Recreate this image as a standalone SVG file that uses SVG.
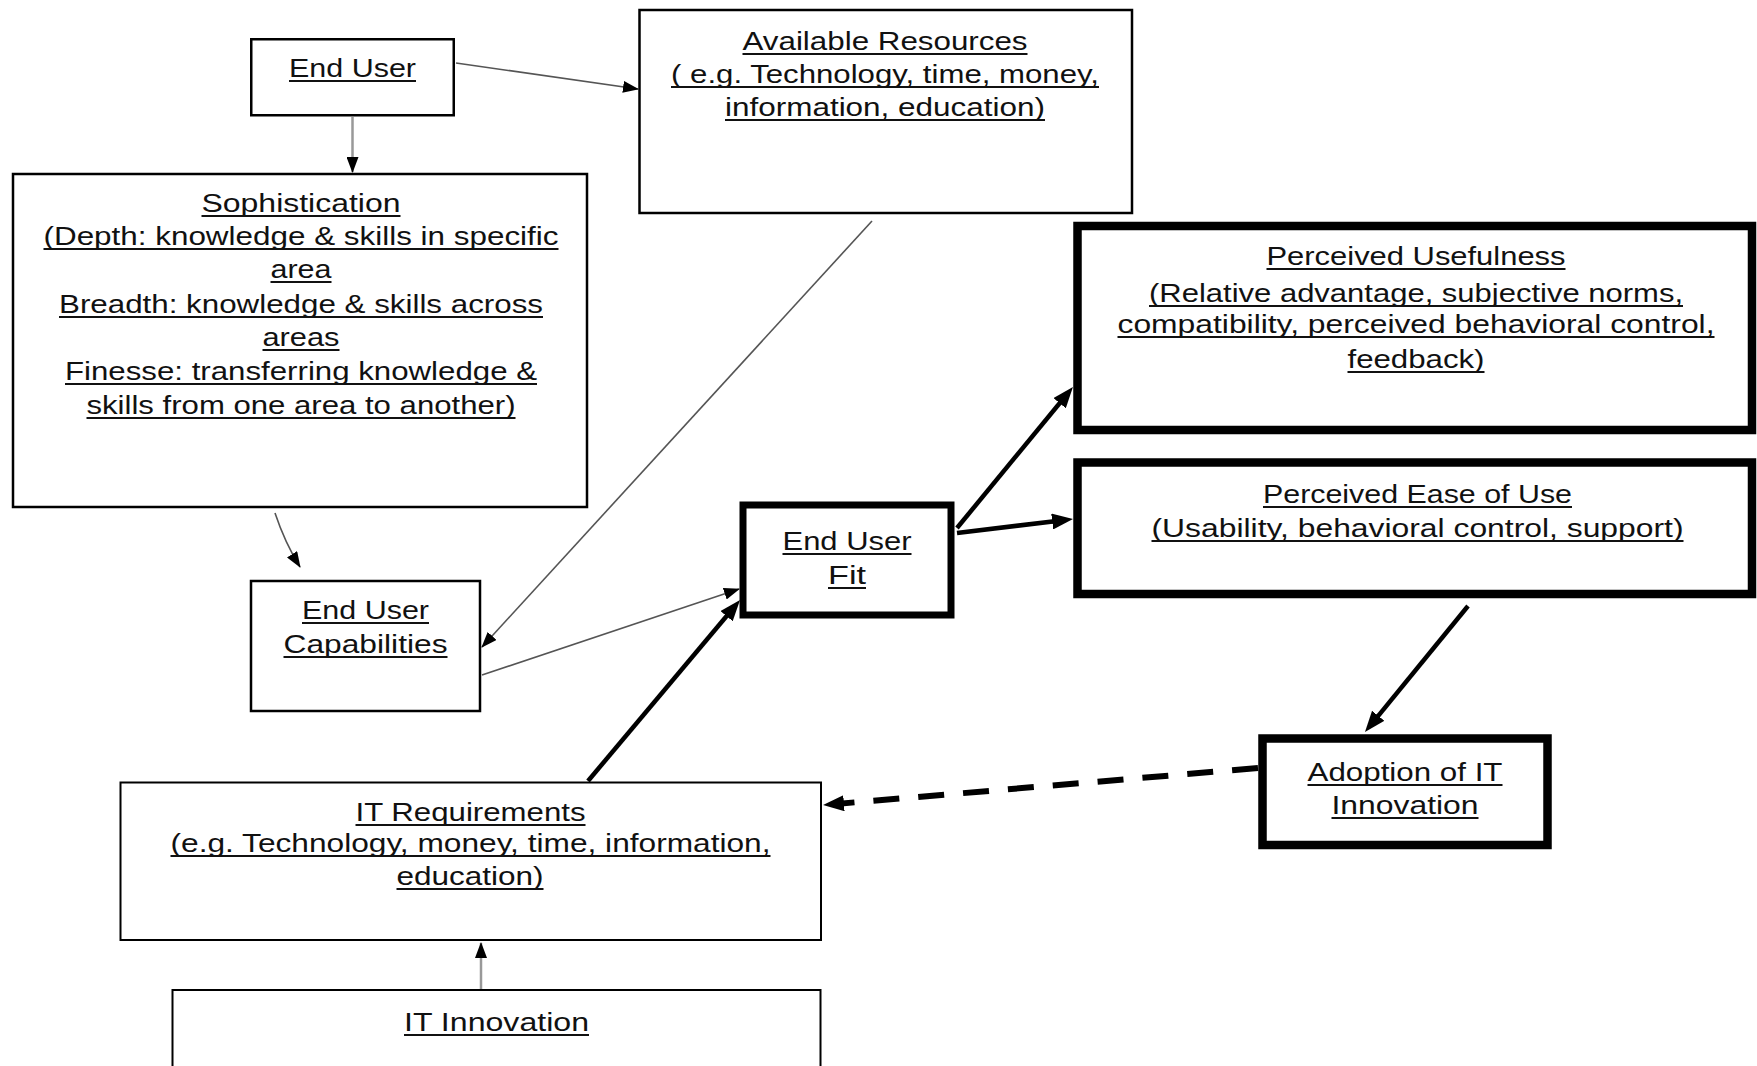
<svg xmlns="http://www.w3.org/2000/svg" width="1757" height="1066" viewBox="0 0 1757 1066">
  <defs>
    <style>
      .box { fill: #fff; stroke: #000; stroke-width: 2.5; }
      .box-it { fill: #fff; stroke: #000; stroke-width: 2; }
      .box-bold { fill: #fff; stroke: #000; stroke-width: 8.5; }
      .box-fit { fill: #fff; stroke: #000; stroke-width: 7; }
      .lbl { font-family: "Liberation Sans", Arial, sans-serif; font-size: 26px; fill: #111; text-anchor: middle; }
      .ul { fill: none; stroke: #111; stroke-width: 2; }
      .thin { fill: none; stroke: #555; stroke-width: 1.6; }
      .grey { fill: none; stroke: #999; stroke-width: 2.5; }
      .bold { fill: none; stroke: #000; stroke-width: 4.5; }
      .dash { fill: none; stroke: #000; stroke-width: 6; stroke-dasharray: 26 19; }
    </style>
    <marker id="arr" markerUnits="userSpaceOnUse" markerWidth="16" markerHeight="12" refX="15" refY="6" orient="auto">
      <path d="M0,0 L16,6 L0,12 z" fill="#000"/>
    </marker>
    <marker id="arrb" markerUnits="userSpaceOnUse" markerWidth="21" markerHeight="16" refX="11" refY="8" orient="auto">
      <path d="M0,0 L21,8 L0,16 z" fill="#000"/>
    </marker>
  </defs>

  <rect width="1757" height="1066" fill="#fff"/>

  <!-- connectors -->
  <g id="connectors">
    <line class="thin" x1="456" y1="63" x2="638" y2="89" marker-end="url(#arr)"/>
    <line class="grey" x1="352.5" y1="117" x2="352.5" y2="172" marker-end="url(#arr)"/>
    <path class="thin" d="M275,513 Q285,543 300,567" marker-end="url(#arr)"/>
    <line class="thin" x1="872" y1="221" x2="482" y2="647" marker-end="url(#arr)"/>
    <line class="thin" x1="482" y1="675" x2="739" y2="589" marker-end="url(#arr)"/>
    <line class="bold" x1="588" y1="781" x2="733.6" y2="607.7" marker-end="url(#arrb)"/>
    <line class="bold" x1="957" y1="528" x2="1066.6" y2="394.7" marker-end="url(#arrb)"/>
    <line class="bold" x1="957" y1="533" x2="1063.1" y2="520.2" marker-end="url(#arrb)"/>
    <line class="bold" x1="1468" y1="606" x2="1371.3" y2="724.3" marker-end="url(#arrb)"/>
    <line class="dash" x1="1258" y1="768" x2="833" y2="804.2" marker-end="url(#arrb)"/>
    <line class="grey" x1="481" y1="989" x2="481" y2="943" marker-end="url(#arr)"/>
  </g>

  <!-- nodes: each label line is stretched to its width and underlined -->
  <g id="end-user">
    <rect class="box" x="251.25" y="39.25" width="202.5" height="76"/>
    <text class="lbl" x="352.5" y="77" textLength="127" lengthAdjust="spacingAndGlyphs">End User</text>
    <path class="ul" d="M289,81 H416"/>
  </g>

  <g id="available-resources">
    <rect class="box" x="639.5" y="10" width="492.5" height="203"/>
    <text class="lbl" x="885" y="50" textLength="285" lengthAdjust="spacingAndGlyphs">Available Resources</text>
    <text class="lbl" x="885" y="83" textLength="428" lengthAdjust="spacingAndGlyphs">( e.g. Technology, time, money,</text>
    <text class="lbl" x="885" y="116" textLength="320" lengthAdjust="spacingAndGlyphs">information, education)</text>
    <path class="ul" d="M742.5,54 H1027.5 M671,87 H1099 M725,120 H1045"/>
  </g>

  <g id="sophistication">
    <rect class="box" x="13" y="174" width="574" height="333"/>
    <text class="lbl" x="301" y="212" textLength="199" lengthAdjust="spacingAndGlyphs">Sophistication</text>
    <text class="lbl" x="301" y="245" textLength="515" lengthAdjust="spacingAndGlyphs">(Depth: knowledge &amp; skills in specific</text>
    <text class="lbl" x="301" y="278" textLength="61" lengthAdjust="spacingAndGlyphs">area</text>
    <text class="lbl" x="301" y="313" textLength="484" lengthAdjust="spacingAndGlyphs">Breadth: knowledge &amp; skills across</text>
    <text class="lbl" x="301" y="346" textLength="77" lengthAdjust="spacingAndGlyphs">areas</text>
    <text class="lbl" x="301" y="380" textLength="472" lengthAdjust="spacingAndGlyphs">Finesse: transferring knowledge &amp;</text>
    <text class="lbl" x="301" y="414" textLength="429" lengthAdjust="spacingAndGlyphs">skills from one area to another)</text>
    <path class="ul" d="M201.5,216 H400.5 M43.5,249 H558.5 M270.5,282 H331.5 M59,317 H543 M262.5,350 H339.5 M65,384 H537 M86.5,418 H515.5"/>
  </g>

  <g id="end-user-capabilities">
    <rect class="box" x="251" y="581" width="229" height="130"/>
    <text class="lbl" x="365.5" y="619" textLength="127" lengthAdjust="spacingAndGlyphs">End User</text>
    <text class="lbl" x="365.5" y="653" textLength="164" lengthAdjust="spacingAndGlyphs">Capabilities</text>
    <path class="ul" d="M302,623 H429 M283.5,657 H447.5"/>
  </g>

  <g id="end-user-fit">
    <rect class="box-fit" x="743" y="505" width="208" height="110"/>
    <text class="lbl" x="847" y="550" textLength="129" lengthAdjust="spacingAndGlyphs">End User</text>
    <text class="lbl" x="847" y="584" textLength="38" lengthAdjust="spacingAndGlyphs">Fit</text>
    <path class="ul" d="M782.5,554 H911.5 M828,588 H866"/>
  </g>

  <g id="perceived-usefulness">
    <rect class="box-bold" x="1077.5" y="226" width="674.5" height="204"/>
    <text class="lbl" x="1416" y="265" textLength="299" lengthAdjust="spacingAndGlyphs">Perceived Usefulness</text>
    <text class="lbl" x="1416" y="302" textLength="534" lengthAdjust="spacingAndGlyphs">(Relative advantage, subjective norms,</text>
    <text class="lbl" x="1416" y="333" textLength="597" lengthAdjust="spacingAndGlyphs">compatibility, perceived behavioral control,</text>
    <text class="lbl" x="1416" y="368" textLength="137" lengthAdjust="spacingAndGlyphs">feedback)</text>
    <path class="ul" d="M1266.5,269 H1565.5 M1149,306 H1683 M1117.5,337 H1714.5 M1347.5,372 H1484.5"/>
  </g>

  <g id="perceived-ease-of-use">
    <rect class="box-bold" x="1077.5" y="462.5" width="674.5" height="131.5"/>
    <text class="lbl" x="1417.5" y="503" textLength="309" lengthAdjust="spacingAndGlyphs">Perceived Ease of Use</text>
    <text class="lbl" x="1417.5" y="537" textLength="532" lengthAdjust="spacingAndGlyphs">(Usability, behavioral control, support)</text>
    <path class="ul" d="M1263,507 H1572 M1151.5,541 H1683.5"/>
  </g>

  <g id="adoption-of-it-innovation">
    <rect class="box-bold" x="1262.5" y="738.5" width="285" height="106.5"/>
    <text class="lbl" x="1405" y="781" textLength="195" lengthAdjust="spacingAndGlyphs">Adoption of IT</text>
    <text class="lbl" x="1405" y="814" textLength="147" lengthAdjust="spacingAndGlyphs">Innovation</text>
    <path class="ul" d="M1307.5,785 H1502.5 M1331.5,818 H1478.5"/>
  </g>

  <g id="it-requirements">
    <rect class="box-it" x="120.5" y="782.5" width="700.5" height="157.5"/>
    <text class="lbl" x="470.5" y="821" textLength="230" lengthAdjust="spacingAndGlyphs">IT Requirements</text>
    <text class="lbl" x="470.5" y="852" textLength="600" lengthAdjust="spacingAndGlyphs">(e.g. Technology, money, time, information,</text>
    <text class="lbl" x="470" y="885" textLength="147" lengthAdjust="spacingAndGlyphs">education)</text>
    <path class="ul" d="M355.5,825 H585.5 M170.5,856 H770.5 M396.5,889 H543.5"/>
  </g>

  <g id="it-innovation">
    <rect class="box-it" x="172.5" y="990" width="648" height="100"/>
    <text class="lbl" x="496.5" y="1031" textLength="185" lengthAdjust="spacingAndGlyphs">IT Innovation</text>
    <path class="ul" d="M404,1035 H589"/>
  </g>
</svg>
